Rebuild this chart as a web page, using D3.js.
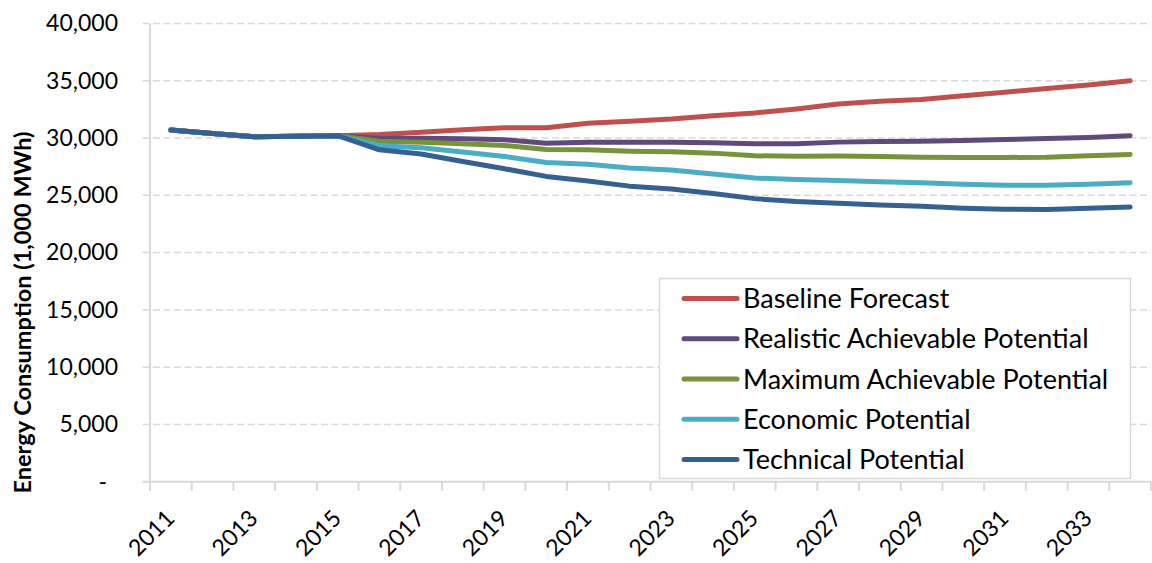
<!DOCTYPE html>
<html>
<head>
<meta charset="utf-8">
<script src="https://cdn.jsdelivr.net/npm/d3@7"></script>
<style>
  html, body { margin: 0; padding: 0; background: #fff; }
  svg { display: block; font-family: Lato, "Open Sans", sans-serif; }
</style>
</head>
<body>
<svg id="chart" width="1152" height="563"></svg>
<script>
// Annual energy consumption forecasts (1,000 MWh), 2011–2034
const years = d3.range(2011, 2035);

const baseline  = [30700, 30400, 30100, 30150, 30200, 30300, 30500, 30710, 30890, 30900, 31290, 31470, 31650, 31950, 32190, 32540, 32970, 33200, 33350, 33680, 34000, 34320, 34630, 35000];
const realistic = [30700, 30400, 30100, 30150, 30200, 29960, 29980, 29930, 29840, 29550, 29640, 29640, 29640, 29580, 29500, 29500, 29640, 29700, 29720, 29780, 29870, 29960, 30040, 30200];
const maximum   = [30700, 30400, 30100, 30150, 30200, 29720, 29630, 29500, 29350, 29000, 28970, 28850, 28800, 28680, 28450, 28400, 28420, 28390, 28330, 28300, 28300, 28330, 28450, 28570];
const economic  = [30700, 30400, 30100, 30150, 30200, 29320, 29150, 28770, 28390, 27870, 27700, 27380, 27200, 26850, 26500, 26380, 26300, 26180, 26100, 25960, 25880, 25870, 25960, 26100];
const technical = [30700, 30400, 30100, 30150, 30200, 28970, 28600, 27950, 27320, 26650, 26250, 25800, 25550, 25150, 24710, 24450, 24300, 24150, 24040, 23880, 23780, 23770, 23870, 23980];

const seriesNames = ["Baseline Forecast", "Realistic Achievable Potential", "Maximum Achievable Potential", "Economic Potential", "Technical Potential"];
const seriesValues = [baseline, realistic, maximum, economic, technical];
const seriesColors = ["#C0504D", "#604A7B", "#77933C", "#4BACC6", "#376092"];

const yTicks = d3.range(0, 40001, 5000);
const xLabelYears = years.filter((y, i) => i % 2 === 0);

const svg = d3.select("#chart");
const plot = { left: 150, right: 1151, top: 23.4, bottom: 481.8 };

const x = d3.scaleBand().domain(years).range([plot.left, plot.right]).padding(0);
const xc = d => x(d) + x.bandwidth() / 2;
const y = d3.scaleLinear().domain([0, 40000]).range([plot.bottom, plot.top]);

const gridColor = "#D9D9D9";

// dashed horizontal gridlines
svg.append("g")
  .selectAll("line")
  .data(yTicks.filter(t => t > 0))
  .join("line")
  .attr("x1", plot.left - 7.5).attr("x2", plot.right)
  .attr("y1", d => y(d)).attr("y2", d => y(d))
  .attr("stroke", gridColor).attr("stroke-width", 1.5)
  .attr("stroke-dasharray", "7,3.5");

// value axis
const yAxis = d3.axisLeft(y)
  .tickValues(yTicks)
  .tickSize(0)
  .tickPadding(32)
  .tickFormat(d => d === 0 ? "-" : d3.format(",")(d));
const gy = svg.append("g").attr("transform", `translate(${plot.left},0)`).call(yAxis);
gy.select(".domain").remove();
gy.selectAll("text")
  .attr("font-size", 23).attr("fill", "#000")
  .attr("font-family", "Lato, sans-serif")
  .attr("dx", d => d === 0 ? -11 : 0);

// vertical axis line
svg.append("line")
  .attr("x1", plot.left).attr("x2", plot.left)
  .attr("y1", plot.top).attr("y2", plot.bottom + 9)
  .attr("stroke", gridColor).attr("stroke-width", 2);

// horizontal axis line with tick marks at category boundaries
svg.append("line")
  .attr("x1", plot.left - 7.5).attr("x2", plot.right)
  .attr("y1", plot.bottom).attr("y2", plot.bottom)
  .attr("stroke", gridColor).attr("stroke-width", 2);
svg.append("g")
  .selectAll("line")
  .data(years.concat([years[years.length - 1] + 1]))
  .join("line")
  .attr("x1", d => d <= years[years.length - 1] ? x(d) : plot.right)
  .attr("x2", d => d <= years[years.length - 1] ? x(d) : plot.right)
  .attr("y1", plot.bottom).attr("y2", plot.bottom + 9)
  .attr("stroke", gridColor).attr("stroke-width", 2);

// category axis labels, rotated
const xAxis = d3.axisBottom(x).tickValues(xLabelYears).tickSize(0).tickFormat(d3.format("d"));
const gx = svg.append("g").attr("transform", `translate(0,${plot.bottom})`).call(xAxis);
gx.select(".domain").remove();
gx.selectAll("text")
  .attr("font-size", 23).attr("fill", "#000")
  .attr("font-family", "Lato, sans-serif")
  .attr("text-anchor", "end")
  .attr("y", 0).attr("dy", 0)
  .attr("transform", "translate(5,38) rotate(-45)");

// axis title
svg.append("text")
  .attr("transform", `translate(31,312.5) rotate(-90)`)
  .attr("text-anchor", "middle")
  .attr("font-size", 23.5).attr("font-weight", "bold").attr("fill", "#000")
  .text("Energy Consumption (1,000 MWh)");

// series lines
const line = d3.line().x((d, i) => xc(years[i])).y(d => y(d));
svg.append("g")
  .selectAll("path")
  .data(seriesValues)
  .join("path")
  .attr("d", d => line(d))
  .attr("fill", "none")
  .attr("stroke", (d, i) => seriesColors[i])
  .attr("stroke-width", 5)
  .attr("stroke-linecap", "round")
  .attr("stroke-linejoin", "round");

// legend
const legend = svg.append("g");
legend.append("rect")
  .attr("x", 659.5).attr("y", 278.5).attr("width", 471).attr("height", 200)
  .attr("fill", "#fff").attr("stroke", gridColor).attr("stroke-width", 1.5);
const rows = legend.selectAll("g.row")
  .data(seriesNames)
  .join("g").attr("class", "row")
  .attr("transform", (d, i) => `translate(0,${298.5 + i * 40.25})`);
rows.append("line")
  .attr("x1", 684).attr("x2", 737).attr("y1", 0).attr("y2", 0)
  .attr("stroke", (d, i) => seriesColors[i])
  .attr("stroke-width", 5).attr("stroke-linecap", "round");
rows.append("text")
  .attr("x", 743).attr("y", 0).attr("dy", "0.36em")
  .attr("font-size", 27).attr("fill", "#000")
  .text(d => d);
</script>
</body>
</html>
